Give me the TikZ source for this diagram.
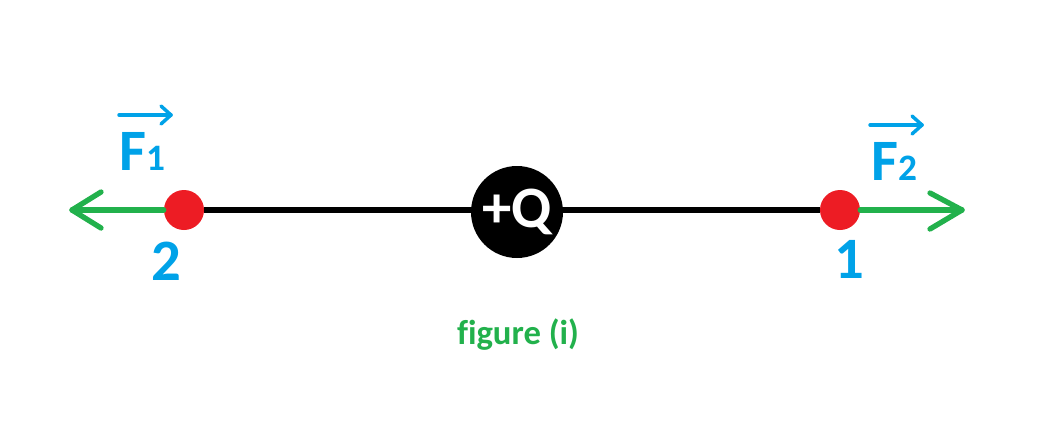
\documentclass[tikz,border=0pt]{standalone}
\usepackage{fontspec}
\setmainfont{Carlito}[Ligatures=NoCommon]
\definecolor{pgreen}{HTML}{22B14C}
\definecolor{pred}{HTML}{ED1C24}
\definecolor{pblue}{HTML}{00A2E8}
\begin{document}
\begin{tikzpicture}[x=0.75pt,y=-0.75pt,
  charge/.style={circle,fill=pred,inner sep=0pt,minimum size=30pt},
  force/.style={draw=pgreen,line width=4pt,line cap=round,line join=round},
  lbl/.style={text=pblue,font=\bfseries\fontsize{44}{44}\selectfont,inner sep=0pt},
  vec/.style={draw=pblue,line width=2.6pt,line cap=round,line join=round}]
\useasboundingbox (0,0) rectangle (1044,439);
% charges and line
\node[charge] (p2) at (184,210) {};
\node[charge] (p1) at (840,210) {};
\draw[line width=5pt] (p2.east) -- (p1.west);
\node[circle,fill=black,inner sep=0pt,minimum size=69pt,text=white,
  font=\bfseries\fontsize{44}{44}\selectfont] (Q) at (517,212) {+Q};
% forces
\coordinate (t2) at (72,210);
\coordinate (t1) at (962,210);
\draw[force] (p2.west) -- (t2);
\draw[force] (101,192) -- (t2) -- (101,228);
\draw[force] (p1.east) -- (t1);
\draw[force] (930,193) -- (t1) -- (930,229);
% labels
\node[lbl,anchor=base west] (F1) at (119,170) {F{\fontsize{28}{28}\selectfont 1}};
\node[lbl,anchor=base west] (F2) at (871,180) {F{\fontsize{28}{28}\selectfont 2}};
\coordinate (a1s) at (119,115); \coordinate (a1e) at (171,115);
\draw[vec] (a1s) -- (a1e);
\draw[vec] (161,106) -- (a1e) -- (161,124);
\coordinate (a2s) at (870,125); \coordinate (a2e) at (922,125);
\draw[vec] (a2s) -- (a2e);
\draw[vec] (912,116) -- (a2e) -- (912,134);
\node[lbl,anchor=base] (n2) at (166,280) {2};
\node[lbl,anchor=base] (n1) at (849,278) {1};
\node[text=pgreen,font=\bfseries\fontsize{26}{26}\selectfont,anchor=base] (cap) at (518,344) {figure (i)};
\end{tikzpicture}
\end{document}
